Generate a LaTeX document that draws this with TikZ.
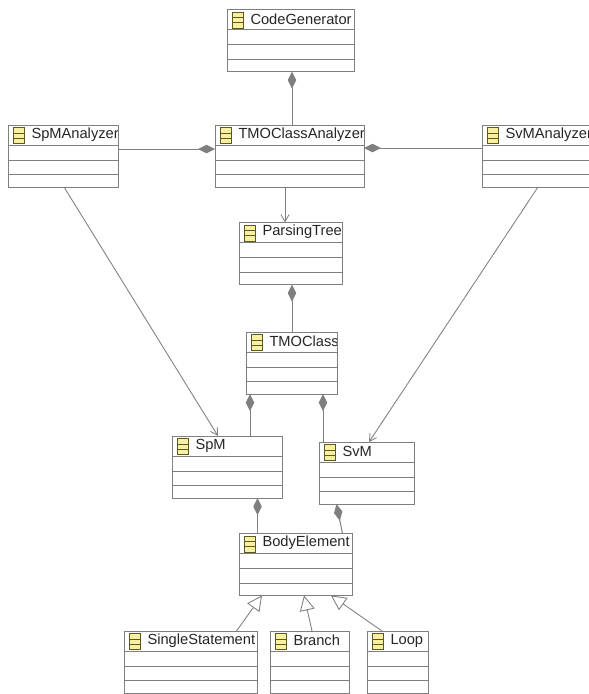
\documentclass[tikz,border=0pt]{standalone}
\usepackage{fontspec}
\setmainfont{Liberation Sans}
\usetikzlibrary{arrows.meta}
\definecolor{linegray}{HTML}{7F7F7F}
\definecolor{icon}{HTML}{F8EFA0}
\definecolor{iconline}{HTML}{5A5A1E}
\def\px{0.75pt}
\def\corner{(path picture bounding box.north west)}
\tikzset{
    classbox/.style={draw=linegray,line width=0.75pt,fill=white,inner sep=0pt,outer sep=0pt,
        minimum height=62*\px,
        path picture={
            \draw[linegray,line width=0.75pt] \corner ++(-5,20) -- ++(300,0);
            \draw[linegray,line width=0.75pt] \corner ++(-5,35) -- ++(300,0);
            \draw[linegray,line width=0.75pt] \corner ++(-5,49.5) -- ++(300,0);
            \draw[iconline,fill=icon,line width=0.75pt] \corner ++(5,2.5) rectangle ++(11,16);
            \draw[iconline,line width=0.75pt] \corner ++(5,8) -- ++(11,0);
            \draw[iconline,line width=0.75pt] \corner ++(5,13) -- ++(11,0);
            \path \corner ++(23.5,9.5) node[anchor=west,minimum width=0pt,minimum height=0pt,inner sep=0pt,text=black!85,font=\fontsize{11}{13}\selectfont] (label) {#1};
        }},
    composition/.style={linegray,line width=0.75pt,{Diamond[length=17*\px,width=8.5*\px,fill=linegray]}-},
    dependency/.style={linegray,line width=0.65pt,-{Straight Barb[length=7*\px,width=8*\px]}},
    generalization/.style={linegray,line width=0.65pt,-{Triangle[open,length=15*\px,width=15*\px,fill=white]}}
}
\begin{document}
\begin{tikzpicture}[x=\px,y=-\px]
        \useasboundingbox (0,0) rectangle (589,694);
        % classes
        \node[classbox={CodeGenerator},minimum width=127*\px] (generator) at (290.5,40.5) {};
        \node[classbox={SpMAnalyzer},minimum width=110*\px] (spmanalyzer) at (63,156) {};
        \node[classbox={TMOClassAnalyzer},minimum width=149*\px] (tmoanalyzer) at (289.5,156) {};
        \node[classbox={SvMAnalyzer},minimum width=107*\px] (svmanalyzer) at (535.5,156) {};
        \node[classbox={ParsingTree},minimum width=103*\px] (tree) at (290.5,253.5) {};
        \node[classbox={TMOClass},minimum width=91*\px] (tmoclass) at (291.5,363) {};
        \node[classbox={SpM},minimum width=110*\px] (spm) at (227,467) {};
        \node[classbox={SvM},minimum width=95*\px] (svm) at (366.5,473) {};
        \node[classbox={BodyElement},minimum width=113*\px] (body) at (295.5,564.5) {};
        \node[classbox={SingleStatement},minimum width=133*\px] (single) at (190.5,662) {};
        \node[classbox={Branch},minimum width=79*\px] (branch) at (309.5,662) {};
        \node[classbox={Loop},minimum width=61*\px] (loop) at (397.5,662) {};

        % composition
        \draw[composition] ([shift={(1.5,0)}]generator.south) -- ([shift={(2.5,0)}]tmoanalyzer.north);
        \draw[composition] ([shift={(0,-7)}]tmoanalyzer.west) -- ([shift={(0,-7)}]spmanalyzer.east);
        \draw[composition] ([shift={(0,-8)}]tmoanalyzer.east) -- ([shift={(0,-8)}]svmanalyzer.west);
        \draw[composition] ([shift={(1.5,0)}]tree.south) -- ([shift={(0.5,0)}]tmoclass.north);
        \draw[composition] ([shift={(-41.5,0)}]tmoclass.south) -- ([shift={(23,0)}]spm.north);
        \draw[composition] ([shift={(31.5,0)}]tmoclass.south) -- ([shift={(-43.5,0)}]svm.north);
        \draw[composition] ([shift={(30.5,0)}]spm.south) -- ([shift={(-38,0)}]body.north);
        \draw[composition] ([shift={(-30,0)}]svm.south) -- ([shift={(47,0)}]body.north);

        % dependency
        \draw[dependency] ([shift={(-4.5,0)}]tmoanalyzer.south) -- ([shift={(-5.5,0)}]tree.north);
        \draw[dependency] ([shift={(1,0)}]spmanalyzer.south) -- ([shift={(-9,0)}]spm.north);
        \draw[dependency] ([shift={(2.5,0)}]svmanalyzer.south) -- ([shift={(2.5,0)}]svm.north);

        % generalization
        \draw[generalization] ([shift={(46,0)}]single.north) -- ([shift={(-33.5,0)}]body.south);
        \draw[generalization] ([shift={(2.5,0)}]branch.north) -- ([shift={(8.5,0)}]body.south);
        \draw[generalization] ([shift={(-15.5,0)}]loop.north) -- ([shift={(35.5,0)}]body.south);
    \end{tikzpicture}
\end{document}
